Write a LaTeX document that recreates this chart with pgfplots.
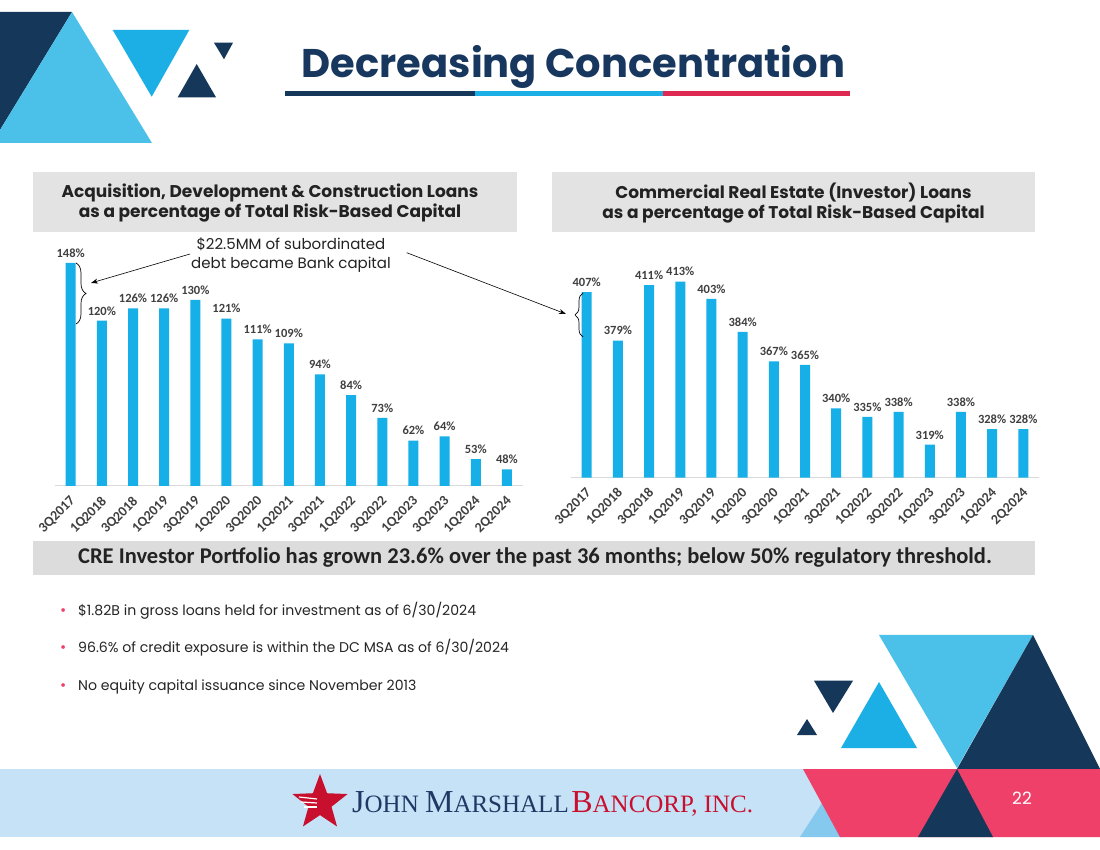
\documentclass[border=0pt]{standalone}
\usepackage{fontspec}
\setmainfont{Poppins}
\newfontfamily\carlito{Carlito}
\newfontfamily\lserif{Liberation Serif}
\usepackage{pgfplots}
\pgfplotsset{compat=1.18}
\usetikzlibrary{decorations.pathreplacing,shapes.geometric,arrows.meta}
\definecolor{navy}{HTML}{153759}
\definecolor{titlenavy}{HTML}{17375E}
\definecolor{lblue}{HTML}{4BC1EA}
\definecolor{cyanb}{HTML}{1BAFE6}
\definecolor{barblue}{HTML}{17AFE8}
\definecolor{redline}{HTML}{DE2A50}
\definecolor{pink}{HTML}{EF4069}
\definecolor{footlight}{HTML}{C6E2F6}
\definecolor{footsky}{HTML}{86C9EF}
\definecolor{boxgray}{HTML}{E3E3E3}
\definecolor{boxgray2}{HTML}{DCDCDC}
\definecolor{darktext}{HTML}{222222}
\definecolor{labgray}{HTML}{404040}
\definecolor{axisgray}{HTML}{D9D9D9}
\definecolor{bullettext}{HTML}{262626}
\definecolor{logored}{HTML}{C8102E}
\definecolor{logonavy}{HTML}{1F3864}
\pgfplotsset{
  jmbar/.style={
    ybar, bar width=10pt, scale only axis,
    xmin=-0.5, xmax=14.5,
    axis x line*=bottom, axis y line=none,
    x axis line style={draw=axisgray, line width=1pt},
    xtick={0,...,14},
    xticklabels={3Q2017,1Q2018,3Q2018,1Q2019,3Q2019,1Q2020,3Q2020,1Q2021,3Q2021,1Q2022,3Q2022,1Q2023,3Q2023,1Q2024,2Q2024},
    major tick length=0pt, ytick=\empty,
    /pgf/number format/assume math mode=true,
    xticklabel style={yshift=-9pt, xshift=-1.5pt, rotate=45, anchor=north east, font=\carlito\bfseries\fontsize{14}{14}\selectfont, text=labgray, inner sep=0pt},
    nodes near coords={\pgfmathprintnumber{\pgfplotspointmeta}\%},
    nodes near coords style={font=\carlito\bfseries\fontsize{12.5}{12.5}\selectfont, text=labgray, yshift=2pt},
  }
}
\begin{document}
\begin{tikzpicture}[x=1pt,y=1pt]
\path[fill=white] (0,0) rectangle (1100,849);
% top-left decoration
\fill[navy] (0,837) -- (72,837) -- (0,719) -- cycle;
\fill[lblue] (72,837) -- (0,719) -- (0,706) -- (152,706) -- cycle;
\fill[cyanb] (112.7,819) -- (189.3,819) -- (151.7,752.3) -- cycle;
\fill[navy] (214,806.3) -- (233,806.3) -- (224,789.7) -- cycle;
\fill[navy] (196.7,785) -- (177.7,751.7) -- (216,751.7) -- cycle;
% title
\node[anchor=base, text=titlenavy, font=\bfseries\fontsize{40}{44}\selectfont, inner sep=0] at (573.5,771) {Decreasing Concentration};
\fill[navy] (285,752.5) rectangle (475,757.5);
\fill[cyanb] (475,752.5) rectangle (663,757.5);
\fill[redline] (663,752.5) rectangle (850,757.5);
% header boxes
\fill[boxgray] (33,617) rectangle (517,677);
\fill[boxgray] (552,617) rectangle (1035,677);
\node[align=center, text=darktext, font=\bfseries\fontsize{17}{20}\selectfont] at (270,646) {Acquisition, Development \& Construction Loans\\as a percentage of Total Risk-Based Capital};
\node[align=center, text=darktext, font=\bfseries\fontsize{17}{20}\selectfont] at (793.5,646) {Commercial Real Estate (Investor) Loans\\as a percentage of Total Risk-Based Capital};
% left chart
\begin{axis}[jmbar, at={(55.1pt,363pt)}, anchor=south west, width=467.4pt, height=248pt, ymin=40, ymax=160]
\addplot[fill=barblue, draw=none] coordinates {(0,148) (1,120) (2,126) (3,126) (4,130) (5,121) (6,111) (7,109) (8,94) (9,84) (10,73) (11,62) (12,64) (13,53) (14,48)};
\end{axis}
% right chart
\begin{axis}[jmbar, at={(571.1pt,371.3pt)}, anchor=south west, width=467.8pt, height=225.6pt, ymin=300, ymax=430]
\addplot[fill=barblue, draw=none] coordinates {(0,407) (1,379) (2,411) (3,413) (4,403) (5,384) (6,367) (7,365) (8,340) (9,335) (10,338) (11,319) (12,338) (13,328) (14,328)};
\end{axis}
% annotation
\node[align=center, text=darktext, font=\fontsize{15}{18.6}\selectfont] at (291,594) {\$22.5MM of subordinated\\debt became Bank capital};
\draw[line width=0.6pt, -{Stealth[length=7pt,width=5pt]}] (190,595) -- (91,566);
\draw[line width=0.6pt, -{Stealth[length=7pt,width=5pt]}] (406.7,596.3) -- (566,535);
\draw[line width=0.7pt, decorate, decoration={brace, amplitude=10pt}] (76,586) -- (76,525);
\draw[line width=0.7pt, decorate, decoration={brace, amplitude=8pt}] (583,512) -- (583,556);
% bottom box
\fill[boxgray2] (33,274) rectangle (1035,308);
\node[text=darktext, font=\carlito\bfseries\fontsize{22.5}{24}\selectfont] at (535,291) {CRE Investor Portfolio has grown 23.6\% over the past 36 months; below 50\% regulatory threshold.};
% bullets
\foreach \yy/\tt in {233/{\$1.82B in gross loans held for investment as of 6/30/2024}, 196/{96.6\% of credit exposure is within the DC MSA as of 6/30/2024}, 159/{No equity capital issuance since November 2013}} {
  \node[anchor=base west, text=pink, font=\fontsize{15}{16}\selectfont, inner sep=0] at (60,\yy) {\textbullet};
  \node[anchor=base west, text=bullettext, font=\fontsize{14.1}{18}\selectfont, inner sep=0] at (78,\yy) {\tt};
}
% right decoration
\fill[lblue] (879,214) -- (1033,214) -- (957,81) -- cycle;
\fill[navy] (1033,214) -- (957,80) -- (1100,80) -- cycle;
\fill[navy] (814,168.3) -- (853,168.3) -- (833,136) -- cycle;
\fill[navy] (807,130) -- (797,114) -- (817,114) -- cycle;
\fill[cyanb] (879,167) -- (841,101) -- (917,101) -- cycle;
% footer
\fill[footlight] (0,12) rectangle (1100,80);
\fill[footsky] (800,12) -- (822,46) -- (845,12) -- cycle;
\fill[pink] (803,80) -- (1100,80) -- (1100,12) -- (840,12) -- cycle;
\fill[navy] (957,80) -- (918,12) -- (993,12) -- cycle;
\node[text=white, font=\fontsize{17}{20}\selectfont] at (1022,51) {22};
% logo
\node[star, star points=5, star point ratio=2.4, fill=logored, minimum size=58pt, inner sep=0] at (320,46) {};
\draw[white, line width=1.2pt] (299,52) -- (317,50);
\draw[white, line width=1.2pt] (301,47) -- (317,46);
\draw[white, line width=1.2pt] (304,42) -- (317,42);
\node[anchor=base west, inner sep=0, font=\lserif] at (352,37) {\textcolor{logonavy}{\fontsize{32}{34}\selectfont J\fontsize{25}{34}\selectfont OHN \fontsize{32}{34}\selectfont M\fontsize{25}{34}\selectfont ARSHALL} \textcolor{logored}{\fontsize{32}{34}\selectfont B\fontsize{25}{34}\selectfont ANCORP, INC.}};
\end{tikzpicture}
\end{document}
